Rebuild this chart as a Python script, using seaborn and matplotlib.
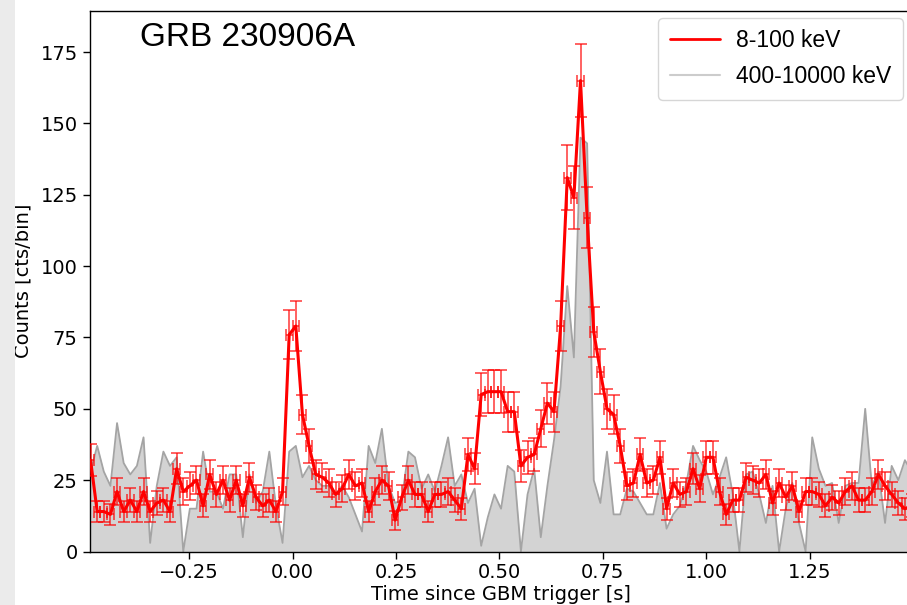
import numpy as np
import pandas as pd
import matplotlib
matplotlib.use("Agg")
import matplotlib.pyplot as plt
from matplotlib.lines import Line2D
from matplotlib.patches import Rectangle
import seaborn as sns

# ---- data -------------------------------------------------------------
bin_start = -0.488     # centre of first 16 ms bin [s]
bin_width = 0.016      # [s]

soft_counts = [32, 14, 14, 13, 21, 14, 18, 14, 21, 14,
               17, 18, 14, 29, 21, 23, 25, 16, 27, 20,
               25, 18, 25, 16, 26, 19, 16, 18, 14, 21,
               76, 79, 48, 37, 27, 26, 24, 20, 22, 27,
               23, 24, 14, 21, 25, 23, 11, 19, 25, 20,
               20, 14, 20, 20, 21, 18, 15, 34, 29, 55,
               56, 56, 56, 49, 49, 30, 33, 34, 43, 52,
               49, 79, 131, 124, 165, 117, 77, 63, 50, 48,
               37, 23, 24, 34, 24, 25, 33, 15, 24, 20,
               21, 29, 22, 33, 33, 21, 13, 18, 18, 26,
               25, 24, 27, 17, 24, 19, 23, 14, 21, 21,
               20, 16, 19, 17, 21, 23, 18, 18, 21, 27,
               23, 20, 17, 15, 16]

hard_counts = [28, 37, 28, 23, 45, 31, 27, 30, 40, 3,
               23, 35, 30, 33, 0, 15, 15, 35, 21, 21,
               15, 27, 27, 5, 27, 17, 21, 35, 16, 3,
               35, 37, 26, 30, 25, 23, 23, 20, 23, 19,
               13, 7, 37, 31, 43, 23, 17, 18, 35, 33,
               22, 27, 21, 30, 40, 23, 27, 17, 22, 2,
               12, 20, 15, 30, 28, 0, 20, 29, 5, 23,
               39, 58, 93, 68, 145, 143, 25, 17, 35, 13,
               13, 22, 21, 17, 13, 13, 24, 8, 13, 16,
               24, 37, 32, 28, 20, 26, 33, 20, 0, 27,
               28, 20, 10, 23, 0, 15, 24, 10, 0, 40,
               29, 23, 24, 10, 23, 24, 24, 50, 23, 28,
               10, 30, 25, 32, 28]

soft_label = "8-100 keV"
hard_label = "400-10000 keV"
title_text = "GRB 230906A"
x_label = "Time since GBM trigger [s]"
y_label = "Counts [cts/bin]"
x_ticks = [-0.25, 0.0, 0.25, 0.5, 0.75, 1.0, 1.25]
y_ticks = [0, 25, 50, 75, 100, 125, 150, 175]

# ---- frame -------------------------------------------------------------
t = bin_start + bin_width * np.arange(len(soft_counts))
df = pd.DataFrame({"t": t, "soft": soft_counts, "hard": hard_counts})
df["err"] = np.sqrt(df["soft"])

sns.set_style("ticks")
plt.rcParams["font.family"] = ["DejaVu Sans"]
plt.rcParams["text.color"] = "black"
plt.rcParams["axes.labelcolor"] = "black"
plt.rcParams["xtick.color"] = "black"
plt.rcParams["ytick.color"] = "black"

W, H = 907, 605
fig = plt.figure(figsize=(W / 100, H / 100), dpi=100)
fig.patches.append(Rectangle((0, 0), 15 / W, 1, transform=fig.transFigure,
                             facecolor="#ebebeb", edgecolor="none", zorder=0))

left_px, right_px, top_px, bot_px = 89.5, 912, 11, 551.5
ax = fig.add_axes([left_px / W, (H - bot_px) / H,
                   (right_px - left_px) / W, (bot_px - top_px) / H])

ax.fill_between(df["t"], 0, df["hard"], color="#d3d3d3", lw=0, zorder=1)
sns.lineplot(data=df, x="t", y="hard", color="#a4a4a4", lw=1.3, ax=ax, zorder=2)
ax.errorbar(df["t"], df["soft"], yerr=df["err"], xerr=bin_width / 2, fmt="none",
            ecolor="red", alpha=0.72, elinewidth=1.2, capsize=4, capthick=1.2, zorder=3)
sns.lineplot(data=df, x="t", y="soft", color="red", lw=2.2, ax=ax, zorder=4)

# axis scales
px_per_s = 413.8
x0_px = 292.5
ax.set_xlim((left_px - x0_px) / px_per_s, (right_px - x0_px) / px_per_s)
ax.set_ylim(0, (bot_px - top_px) / 2.854)
ax.set_xticks(x_ticks)
ax.set_yticks(y_ticks)
ax.set_xticklabels([f"{v:.2f}".replace("-", "\u2212") for v in x_ticks])
ax.tick_params(labelsize=14, length=5, width=1, colors="black")
for s in ax.spines.values():
    s.set_color("black")
    s.set_linewidth(1)
ax.set_xlabel(x_label, fontsize=14, labelpad=2, color="black")
ax.set_ylabel(y_label, fontsize=14, labelpad=6, color="black")

fig.text(140 / W, 1 - 38 / H, title_text, fontsize=24, ha="left", va="center",
         color="black", family=["Liberation Sans", "DejaVu Sans"])

handles = [Line2D([], [], color="red", lw=2),
           Line2D([], [], color="#cccccc", lw=1.5)]
leg = fig.legend(handles, [soft_label, hard_label], loc="upper right",
                 bbox_to_anchor=(903 / W, 1 - 18 / H), bbox_transform=fig.transFigure,
                 prop={"family": ["Liberation Sans", "DejaVu Sans"], "size": 16.5},
                 handlelength=2.2, handletextpad=0.7, frameon=True, fancybox=True,
                 borderpad=0.5, labelspacing=0.55, borderaxespad=0)
leg.get_frame().set_edgecolor("#cccccc")
for txt in leg.get_texts():
    txt.set_color("black")

fig.savefig("out.png", dpi=100)
